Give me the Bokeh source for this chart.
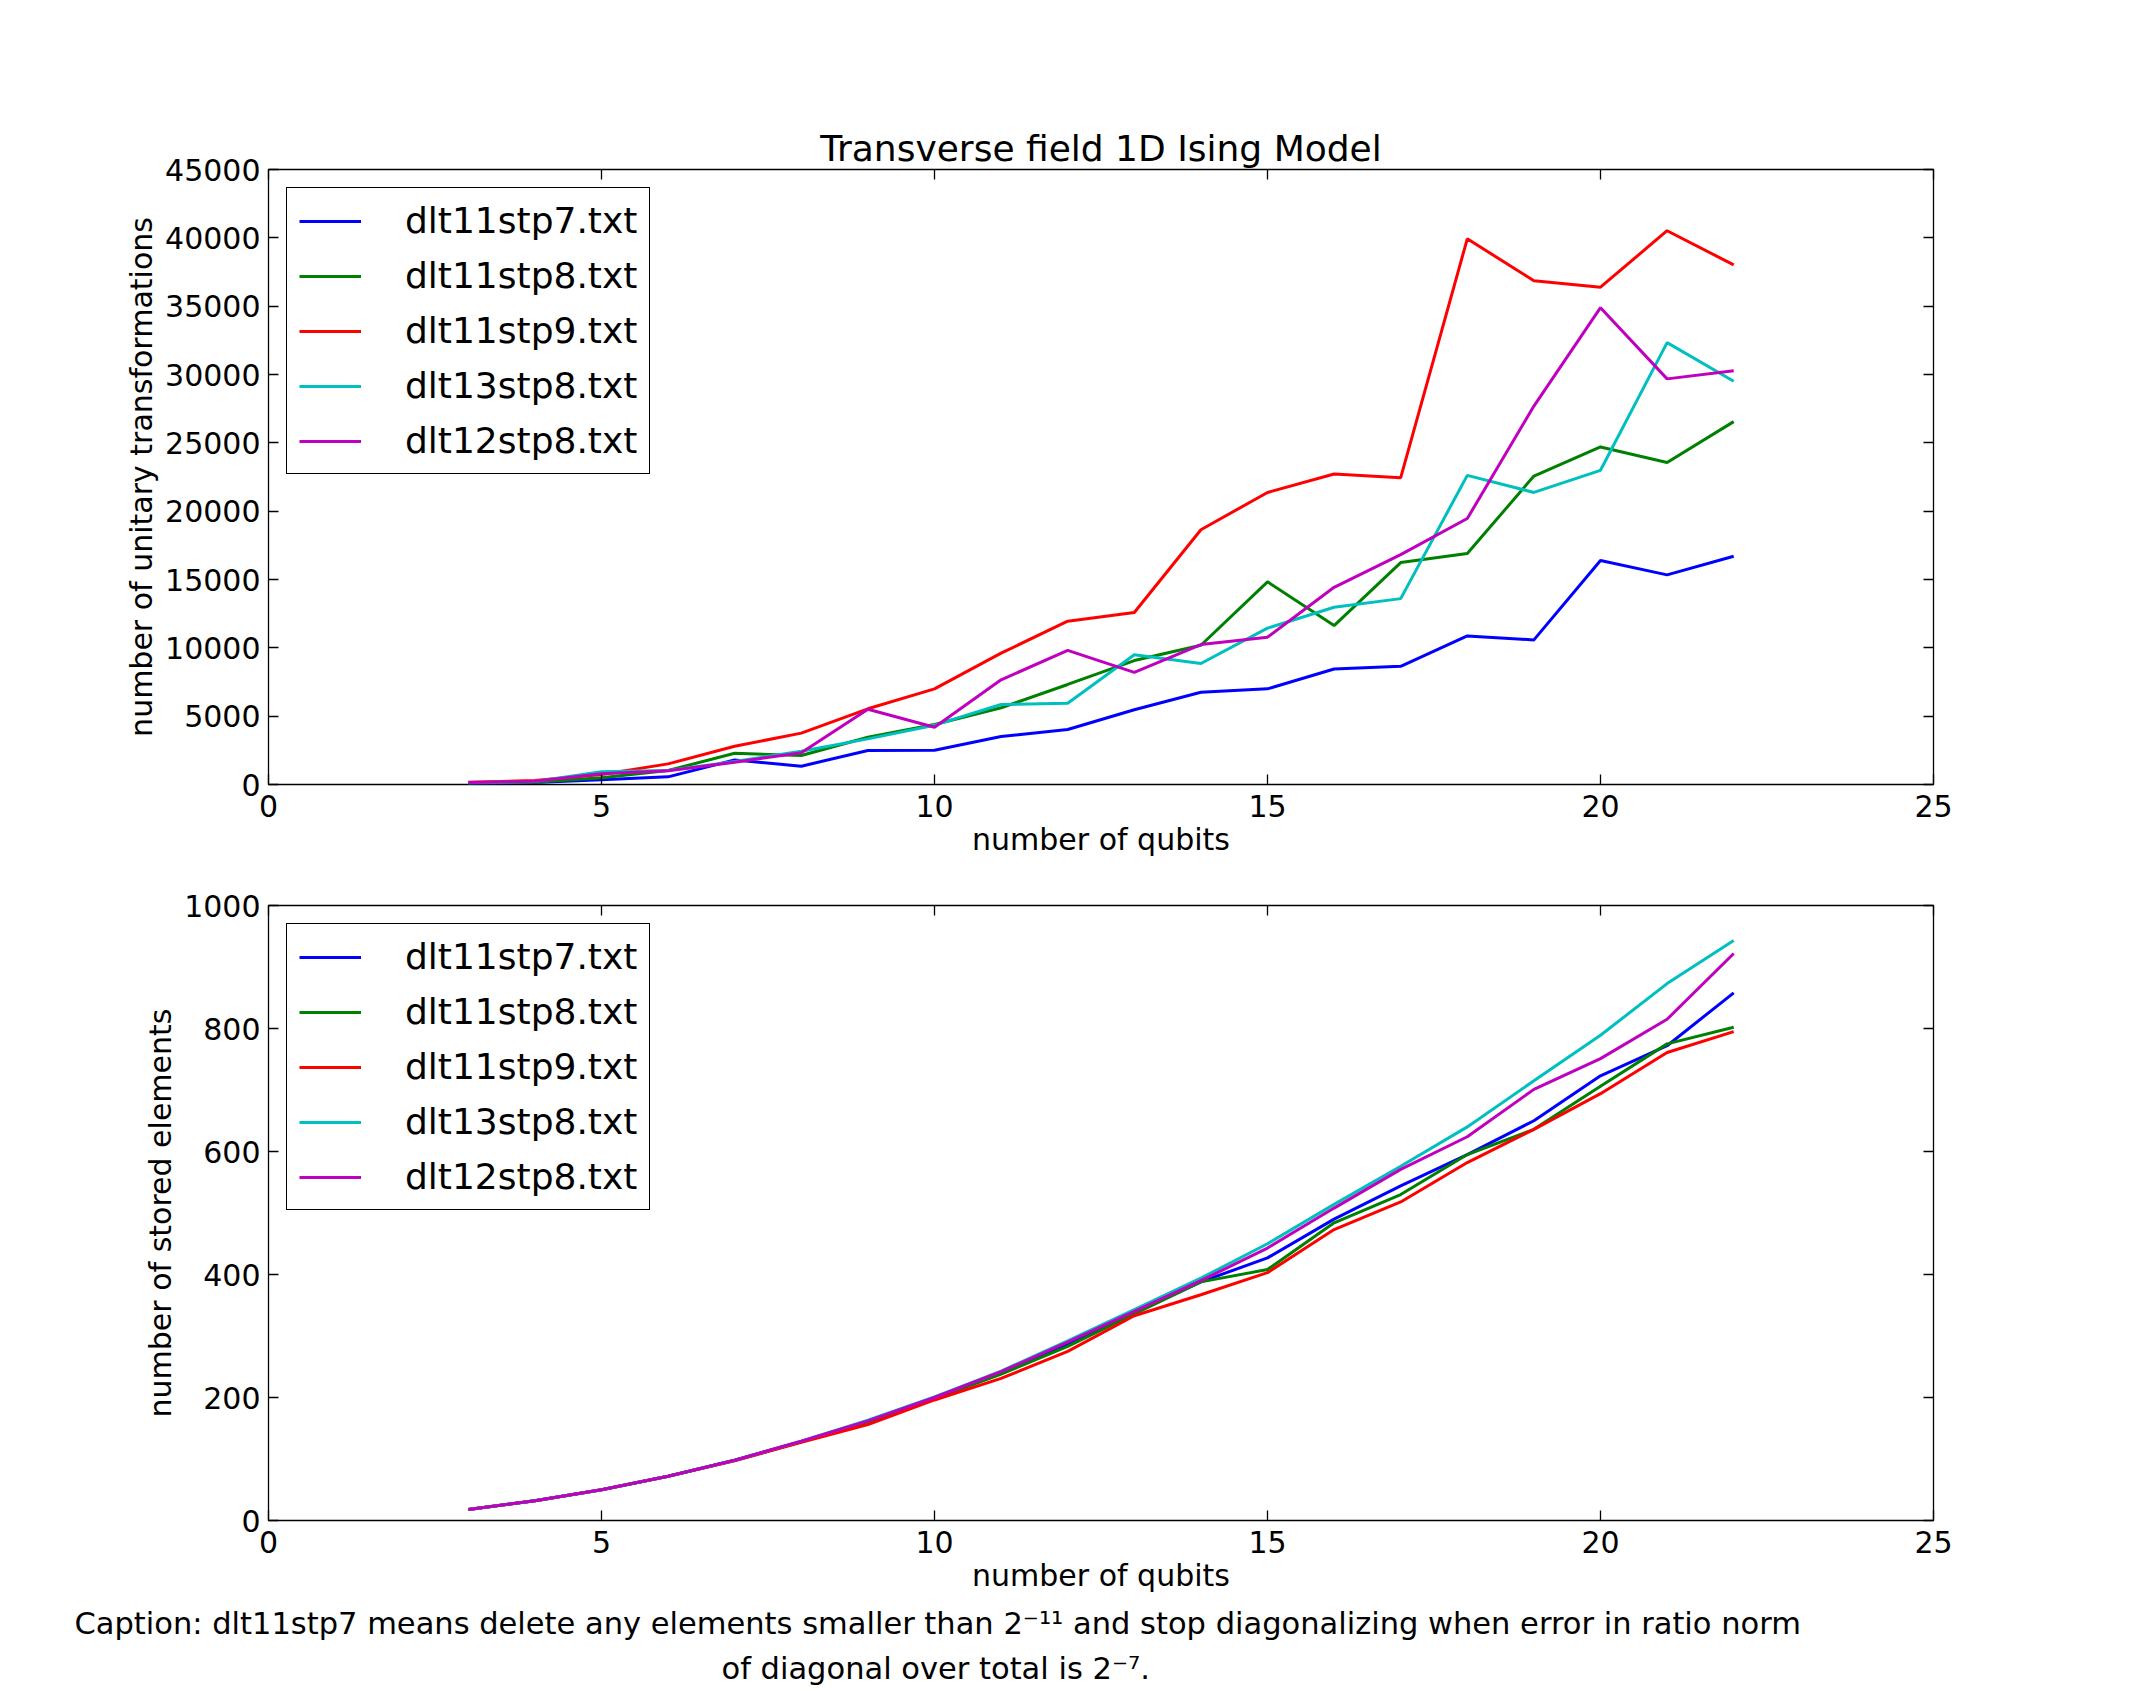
from bokeh.plotting import figure
from bokeh.models import Range1d, FixedTicker, LinearAxis, CustomJSTickFormatter, Title
from bokeh.layouts import column
from bokeh.embed import file_html
from bokeh.resources import INLINE

# ---------------- data ----------------
qubits = [3, 4, 5, 6, 7, 8, 9, 10, 11, 12, 13, 14, 15, 16, 17, 18, 19, 20, 21, 22]

series_names = ["dlt11stp7.txt", "dlt11stp8.txt", "dlt11stp9.txt", "dlt13stp8.txt", "dlt12stp8.txt"]

# number of unitary transformations
unitary_dlt11stp7 = [60, 150, 340, 560, 1800, 1340, 2490, 2510, 3510, 4020, 5470, 6750, 7000, 8450, 8650, 10870, 10580, 16390, 15340, 16700]
unitary_dlt11stp8 = [100, 170, 490, 1020, 2290, 2120, 3460, 4390, 5610, 7320, 9070, 10190, 14830, 11630, 16240, 16900, 22570, 24700, 23560, 26550]
unitary_dlt11stp9 = [170, 290, 730, 1510, 2800, 3760, 5540, 7000, 9610, 11950, 12590, 18640, 21370, 22720, 22450, 39930, 36860, 36390, 40520, 38020]
unitary_dlt13stp8 = [120, 220, 930, 1020, 1680, 2440, 3340, 4340, 5850, 5950, 9490, 8850, 11440, 12970, 13600, 22620, 21370, 22990, 32330, 29510]
unitary_dlt12stp8 = [150, 240, 780, 1000, 1630, 2320, 5510, 4190, 7660, 9810, 8200, 10240, 10780, 14430, 16820, 19460, 27690, 34890, 29680, 30280]

# number of stored elements
stored_dlt11stp7 = [18, 32, 50, 72, 98, 128, 161, 200, 240, 286, 338, 388, 427, 490, 544, 595, 650, 723, 772, 858]
stored_dlt11stp8 = [18, 32, 50, 72, 98, 128, 160, 198, 238, 283, 336, 388, 408, 484, 530, 595, 636, 706, 775, 802]
stored_dlt11stp9 = [18, 32, 50, 72, 97, 127, 156, 196, 231, 275, 333, 367, 403, 473, 518, 582, 636, 694, 761, 795]
stored_dlt13stp8 = [18, 32, 50, 72, 98, 129, 163, 201, 243, 292, 343, 394, 450, 514, 576, 640, 715, 789, 873, 943]
stored_dlt12stp8 = [18, 32, 50, 72, 98, 129, 162, 200, 242, 290, 340, 390, 443, 508, 571, 624, 701, 751, 815, 922]

x_ticks = [0, 5, 10, 15, 20, 25]
unitary_ticks = [0, 5000, 10000, 15000, 20000, 25000, 30000, 35000, 40000, 45000]
stored_ticks = [0, 200, 400, 600, 800, 1000]

title_text = "Transverse field 1D Ising Model"
x_label = "number of qubits"
unitary_label = "number of unitary transformations"
stored_label = "number of stored elements"
caption_line1 = "Caption: dlt11stp7 means delete any elements smaller than 2\u207b\u00b9\u00b9 and stop diagonalizing when error in ratio norm"
caption_line2 = "of diagonal over total is 2\u207b\u2077."

colors = ["#0000ff", "#008000", "#ff0000", "#00bfbf", "#bf00bf"]
FONT = "DejaVu Sans"


def style_axis(ax, ticks):
    ax.ticker = FixedTicker(ticks=ticks)
    ax.minor_tick_line_color = None
    ax.major_tick_in = 10
    ax.major_tick_out = 0
    ax.major_tick_line_color = "black"
    ax.major_tick_line_width = 1.3
    ax.axis_line_color = None


def make_panel(series, ymax, yticks, ylabel, top_border, bottom_border, title=None):
    p = figure(frame_width=1665, frame_height=615,
               min_border_left=268, min_border_right=207,
               min_border_top=top_border, min_border_bottom=bottom_border,
               x_range=Range1d(0, 25), y_range=Range1d(0, ymax),
               output_backend="svg", toolbar_location=None, title=title)
    p.xgrid.visible = False
    p.ygrid.visible = False
    p.outline_line_color = "black"
    p.outline_line_width = 1.3
    p.outline_line_alpha = 1.0
    p.background_fill_color = "white"
    p.border_fill_color = "white"

    if title is not None:
        p.title.text_font = FONT
        p.title.text_font_size = "36px"
        p.title.text_font_style = "normal"
        p.title.align = "center"
        p.title.text_color = "black"
        p.title.standoff = 1

    for ax, ticks in ((p.xaxis[0], x_ticks), (p.yaxis[0], yticks)):
        style_axis(ax, ticks)
        ax.major_label_text_font = FONT
        ax.major_label_text_font_size = "30px"
        ax.major_label_text_color = "black"
        ax.axis_label_text_font = FONT
        ax.axis_label_text_font_size = "30px"
        ax.axis_label_text_font_style = "normal"
        ax.axis_label_text_color = "black"
    p.xaxis[0].axis_label = x_label
    p.xaxis[0].major_label_standoff = 10
    p.xaxis[0].axis_label_standoff = 2
    p.yaxis[0].axis_label = ylabel
    p.yaxis[0].axis_label_standoff = 3
    p.yaxis[0].major_label_standoff = 8

    for loc, ticks in (("above", x_ticks), ("right", yticks)):
        ax = LinearAxis(formatter=CustomJSTickFormatter(code="return ''"),
                        major_label_text_font_size="0px", major_label_standoff=0)
        style_axis(ax, ticks)
        p.add_layout(ax, loc)

    for name, ys, c in zip(series_names, series, colors):
        p.line(qubits, ys, line_color=c, line_width=3, legend_label=name)

    lg = p.legend[0]
    lg.location = "top_left"
    lg.margin = 18
    lg.padding = 12
    lg.spacing = 14
    lg.glyph_width = 62
    lg.glyph_height = 30
    lg.label_standoff = 44
    lg.label_text_font = FONT
    lg.label_text_font_size = "36px"
    lg.label_text_color = "black"
    lg.border_line_color = "black"
    lg.border_line_width = 1.3
    lg.border_line_alpha = 1.0
    lg.background_fill_color = "white"
    lg.background_fill_alpha = 1.0
    return p


p1 = make_panel([unitary_dlt11stp7, unitary_dlt11stp8, unitary_dlt11stp9, unitary_dlt13stp8, unitary_dlt12stp8],
                45000, unitary_ticks, unitary_label, 169, 77, title=title_text)
p2 = make_panel([stored_dlt11stp7, stored_dlt11stp8, stored_dlt11stp9, stored_dlt13stp8, stored_dlt12stp8],
                1000, stored_ticks, stored_label, 44, 165)

# caption lines placed below the lower panel
for txt, off, so in ((caption_line1, -194, 16), (caption_line2, 453, 0)):
    t = Title(text=txt, align="left", offset=off, text_font=FONT, text_font_size="30.5px",
              text_font_style="normal", text_color="black", standoff=so)
    p2.add_layout(t, "below")

layout = column(p1, p2, spacing=0)

with open("out.html", "w") as f:
    f.write(file_html(layout, INLINE))
